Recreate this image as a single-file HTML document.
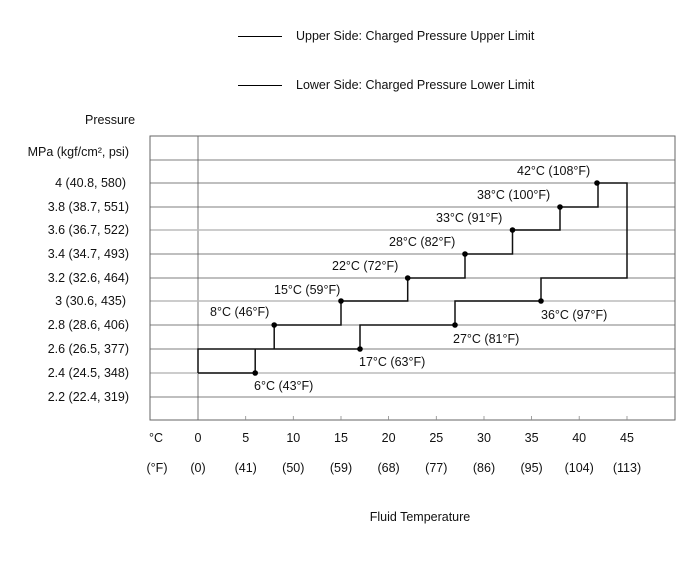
<!DOCTYPE html>
<html><head><meta charset="utf-8"><style>
body{margin:0;background:#fff}
svg{display:block}
text{font-family:"Liberation Sans",Arial,sans-serif;font-size:12.5px;fill:#111}
</style></head><body>
<svg width="691" height="562" viewBox="0 0 691 562">
<line x1="238" y1="36.5" x2="282" y2="36.5" stroke="#000" stroke-width="1"/>
<text x="296" y="40">Upper Side: Charged Pressure Upper Limit</text>
<line x1="238" y1="85.5" x2="282" y2="85.5" stroke="#000" stroke-width="1"/>
<text x="296" y="89">Lower Side: Charged Pressure Lower Limit</text>
<text x="85" y="124">Pressure</text>
<text x="129" y="156" text-anchor="end">MPa (kgf/cm², psi)</text>
<g text-anchor="end">
<text x="126" y="187">4 (40.8, 580)</text>
<text x="129" y="211">3.8 (38.7, 551)</text>
<text x="129" y="234">3.6 (36.7, 522)</text>
<text x="129" y="258">3.4 (34.7, 493)</text>
<text x="129" y="282">3.2 (32.6, 464)</text>
<text x="126" y="305">3 (30.6, 435)</text>
<text x="129" y="329">2.8 (28.6, 406)</text>
<text x="129" y="353">2.6 (26.5, 377)</text>
<text x="129" y="377">2.4 (24.5, 348)</text>
<text x="129" y="401">2.2 (22.4, 319)</text>
</g>
<g stroke="#555" stroke-width="0.8">
<line x1="150" y1="160" x2="675" y2="160"/>
<line x1="150" y1="183" x2="675" y2="183"/>
<line x1="150" y1="207" x2="675" y2="207"/>
<line x1="150" y1="254" x2="675" y2="254"/>
<line x1="150" y1="278" x2="675" y2="278"/>
<line x1="150" y1="325" x2="675" y2="325"/>
<line x1="150" y1="349" x2="675" y2="349"/>
<line x1="150" y1="397" x2="675" y2="397"/>
<line x1="198" y1="136" x2="198" y2="420"/>
</g>
<g stroke="#bbb" stroke-width="1.5">
<line x1="150" y1="230" x2="675" y2="230"/>
<line x1="150" y1="301" x2="675" y2="301"/>
<line x1="150" y1="373" x2="675" y2="373"/>
</g>
<rect x="150" y="136" width="525" height="284" fill="none" stroke="#666" stroke-width="1"/>
<g stroke="#888" stroke-width="0.8">
<line x1="245.7" y1="416" x2="245.7" y2="420"/><line x1="293.3" y1="416" x2="293.3" y2="420"/>
<line x1="341" y1="416" x2="341" y2="420"/><line x1="388.6" y1="416" x2="388.6" y2="420"/>
<line x1="436.3" y1="416" x2="436.3" y2="420"/><line x1="484" y1="416" x2="484" y2="420"/>
<line x1="531.6" y1="416" x2="531.6" y2="420"/><line x1="579.2" y1="416" x2="579.2" y2="420"/>
<line x1="627" y1="416" x2="627" y2="420"/>
</g>
<polyline fill="none" stroke="#111" stroke-width="1.5" points="198,373 198,349 274.2,349 274.2,325 341,325 341,301 407.7,301 407.7,278 465,278 465,254 512.5,254 512.5,230 560,230 560,207 598,207 598,183 627,183 627,278 541,278 541,301 455,301 455,325 360,325 360,349 255.2,349 255.2,373 198,373"/>
<g fill="#000">
<circle cx="255.2" cy="373" r="2.8"/><circle cx="274.2" cy="325" r="2.8"/><circle cx="341" cy="301" r="2.8"/>
<circle cx="407.7" cy="278" r="2.8"/><circle cx="465" cy="254" r="2.8"/><circle cx="512.5" cy="230" r="2.8"/>
<circle cx="560" cy="207" r="2.8"/><circle cx="597" cy="183" r="2.8"/><circle cx="541" cy="301" r="2.8"/>
<circle cx="455" cy="325" r="2.8"/><circle cx="360" cy="349" r="2.8"/>
</g>
<text x="254" y="390">6°C (43°F)</text>
<text x="210" y="316">8°C (46°F)</text>
<text x="274" y="294">15°C (59°F)</text>
<text x="332" y="270">22°C (72°F)</text>
<text x="389" y="246">28°C (82°F)</text>
<text x="436" y="222">33°C (91°F)</text>
<text x="477" y="199">38°C (100°F)</text>
<text x="517" y="175">42°C (108°F)</text>
<text x="541" y="319">36°C (97°F)</text>
<text x="453" y="343">27°C (81°F)</text>
<text x="359" y="366">17°C (63°F)</text>
<g text-anchor="middle">
<text x="156" y="442">°C</text>
<text x="198" y="442">0</text><text x="245.7" y="442">5</text><text x="293.3" y="442">10</text>
<text x="341" y="442">15</text><text x="388.6" y="442">20</text><text x="436.3" y="442">25</text>
<text x="484" y="442">30</text><text x="531.6" y="442">35</text><text x="579.2" y="442">40</text>
<text x="627" y="442">45</text>
<text x="157" y="472">(°F)</text>
<text x="198" y="472">(0)</text><text x="245.7" y="472">(41)</text><text x="293.3" y="472">(50)</text>
<text x="341" y="472">(59)</text><text x="388.6" y="472">(68)</text><text x="436.3" y="472">(77)</text>
<text x="484" y="472">(86)</text><text x="531.6" y="472">(95)</text><text x="579.2" y="472">(104)</text>
<text x="627" y="472">(113)</text>
<text x="420" y="521">Fluid Temperature</text>
</g>
</svg>
</body></html>
